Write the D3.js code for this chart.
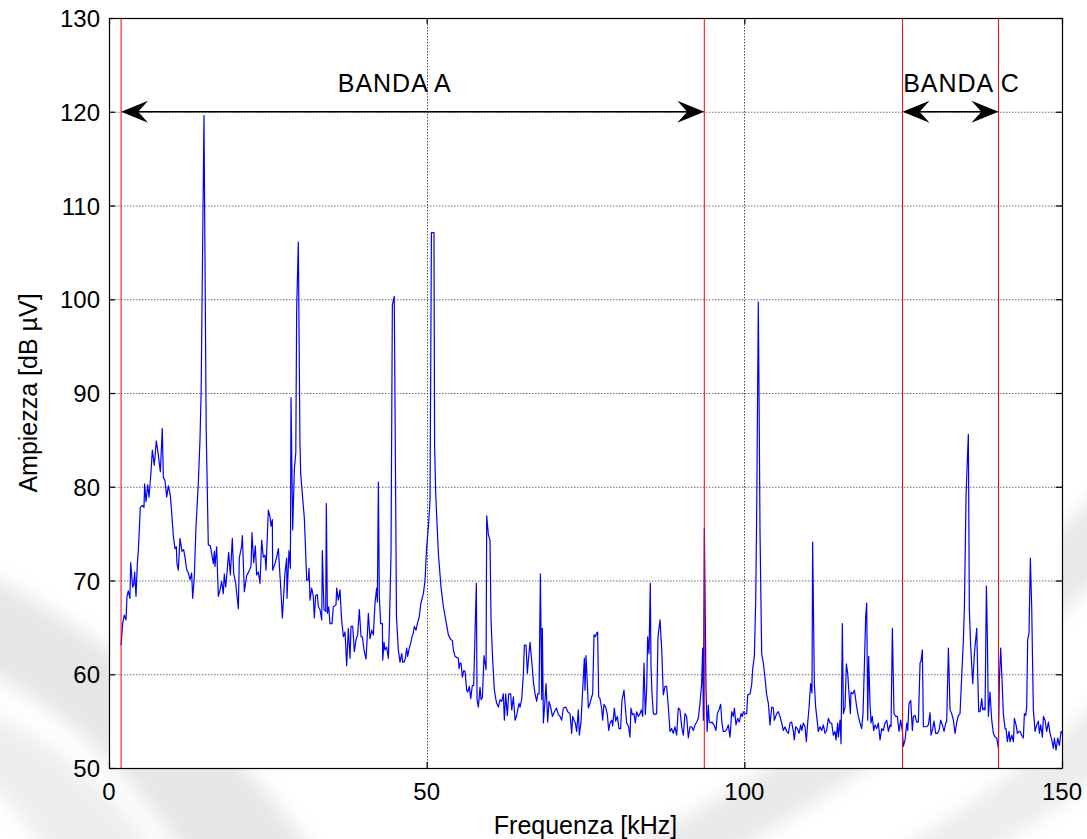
<!DOCTYPE html>
<html>
<head>
<meta charset="utf-8">
<script src="https://cdn.jsdelivr.net/npm/d3@7"></script>
<style>
  html, body { margin: 0; padding: 0; background: #ffffff; }
  svg { display: block; font-family: "Liberation Sans", Arial, sans-serif; }
</style>
</head>
<body>
<svg id="chart" width="1087" height="839"></svg>
<script>
// Axis ticks
const xTicks = [0, 50, 100, 150];
const yTicks = [50, 60, 70, 80, 90, 100, 110, 120, 130];
const xGridTicks = [50, 100];
const yGridTicks = [60, 70, 80, 90, 100, 110, 120];

// Band limits (kHz) drawn as red vertical markers
const bandLimits = [1.9, 93.7, 124.9, 140.0];
const bandNames = ["BANDA A", "BANDA C"];
const bandFrom = [1.9, 124.9];
const bandTo = [93.7, 140.0];
const bandLabelFreq = [36.0, 125.0];
const bandArrowLevel = 120;
const bandLabelLevel = 122.1;

// Measured spectrum: [frequency kHz, amplitude dB µV]
const spectrum = [
[1.9,63.1],[2.15,65.4],[2.41,66.3],[2.68,65.8],[2.83,68.3],[3.04,68.9],[3.30,68.1],[3.41,71.9],[3.72,69.3],[3.88,69.5],
[4.04,70.9],[4.25,68.3],[4.46,71.8],[4.62,73.2],[4.93,77.8],[5.25,78.0],[5.51,77.8],[5.61,80.3],[5.82,78.4],[6.09,80.2],
[6.30,78.9],[6.61,81.6],[6.82,83.9],[7.13,82.3],[7.45,84.9],[7.76,83.4],[8.08,81.6],[8.39,86.2],[8.55,81.0],[8.81,80.7],
[9.08,78.9],[9.34,80.1],[9.65,79.1],[9.86,77.3],[10.13,74.7],[10.39,73.4],[10.60,73.6],[10.70,71.8],[10.91,71.1],[11.17,74.5],
[11.49,73.1],[11.75,73.3],[11.96,72.5],[12.22,71.2],[12.49,70.8],[12.75,70.1],[13.01,70.8],[13.17,68.1],[13.43,70.4],[13.69,75.7],
[14.06,80.4],[14.32,85.0],[14.50,90.0],[14.95,119.6],[15.30,86.0],[15.63,73.8],[15.95,73.7],[16.16,72.9],[16.42,71.8],[16.58,73.1],
[16.68,71.5],[16.95,73.6],[17.21,68.3],[17.47,69.0],[17.73,69.9],[17.99,68.6],[18.15,70.7],[18.36,69.3],[18.57,70.8],[18.83,73.0],
[19.10,70.6],[19.41,74.5],[19.62,70.8],[19.94,69.7],[20.36,67.0],[20.51,72.4],[20.88,73.7],[20.99,74.8],[21.30,68.8],[21.67,70.5],
[22.04,71.0],[22.35,71.5],[22.51,75.1],[22.77,71.9],[23.03,73.7],[23.24,70.6],[23.50,70.9],[23.77,69.7],[24.03,74.3],[24.29,72.5],
[24.56,72.7],[24.71,71.1],[25.08,77.5],[25.34,76.8],[25.50,75.8],[25.71,76.5],[25.76,71.1],[26.13,71.8],[26.39,72.5],[26.66,73.4],
[27.02,69.3],[27.29,66.0],[27.70,70.8],[27.97,72.4],[28.02,68.1],[28.33,73.2],[28.55,71.3],[28.65,89.5],[28.91,75.4],[29.17,81.8],
[29.40,83.6],[29.54,99.0],[29.80,106.1],[30.05,85.0],[30.17,81.4],[30.75,76.6],[31.12,70.0],[31.38,70.1],[31.48,71.3],[31.64,67.9],
[31.90,69.2],[32.16,68.3],[32.32,66.0],[32.53,68.4],[32.79,68.5],[32.95,67.2],[33.21,66.9],[33.48,65.8],[33.58,73.2],[33.74,69.0],
[33.84,66.9],[34.11,66.7],[34.21,78.2],[34.37,66.5],[34.58,67.2],[34.79,65.4],[35.10,65.4],[35.31,67.2],[35.73,67.4],[35.84,69.2],
[36.10,67.9],[36.36,69.0],[36.62,65.8],[36.89,64.0],[37.15,64.5],[37.41,60.9],[37.67,64.9],[37.94,61.7],[38.09,65.1],[38.36,65.1],
[38.62,62.4],[38.88,63.7],[39.14,64.2],[39.40,66.9],[39.67,64.0],[39.88,64.0],[40.14,62.6],[40.45,61.6],[40.66,64.2],[40.82,66.5],
[41.08,63.8],[41.35,64.7],[41.61,64.2],[41.87,67.6],[42.13,69.2],[42.24,67.7],[42.40,80.5],[42.55,68.3],[42.76,65.4],[43.03,65.4],
[43.08,61.5],[43.29,63.4],[43.44,62.6],[43.71,62.9],[43.97,61.7],[44.13,65.1],[44.39,72.9],[44.60,99.4],[44.90,100.3],[45.25,66.1],
[45.54,62.6],[45.81,61.3],[46.07,62.2],[46.23,61.3],[46.44,61.3],[46.65,61.7],[46.85,62.8],[47.01,61.9],[47.27,62.8],[47.48,63.3],
[47.69,64.0],[47.90,64.4],[48.06,65.1],[48.33,64.7],[48.53,65.4],[48.80,66.0],[49.10,67.6],[49.48,68.6],[49.74,70.0],[50.00,73.6],
[50.27,75.7],[50.53,78.6],[50.75,107.1],[51.15,107.1],[51.25,84.3],[51.42,79.3],[51.84,72.9],[52.26,69.3],[52.63,67.2],[53.00,65.8],
[53.42,64.2],[53.78,63.7],[54.05,63.6],[54.20,62.6],[54.47,61.9],[54.73,61.8],[54.99,61.7],[55.10,60.6],[55.25,61.2],[55.41,61.2],
[55.62,59.7],[55.83,60.4],[56.04,60.3],[56.30,58.3],[56.46,58.1],[56.72,58.7],[56.93,57.4],[57.19,58.8],[57.40,58.8],[57.61,64.3],
[57.82,69.7],[57.93,57.3],[58.14,56.5],[58.40,58.6],[58.56,57.3],[58.77,57.5],[59.03,62.0],[59.19,61.2],[59.35,60.5],[59.45,76.9],
[59.71,74.9],[59.97,74.3],[60.13,65.8],[60.39,61.5],[60.66,58.3],[60.87,57.4],[61.02,56.9],[61.29,56.5],[61.55,57.3],[61.81,57.1],
[62.07,57.9],[62.23,55.1],[62.44,57.9],[62.70,55.6],[62.91,57.9],[63.23,57.9],[63.39,56.2],[63.65,57.6],[63.91,55.1],[64.17,55.6],
[64.33,56.2],[64.54,56.9],[64.70,56.5],[64.96,57.3],[65.22,60.0],[65.38,63.1],[65.64,63.1],[65.85,60.1],[66.01,61.5],[66.27,63.4],
[66.53,61.5],[66.80,59.2],[67.06,57.9],[67.32,57.1],[67.48,57.9],[67.69,57.9],[67.90,70.7],[68.11,57.3],[68.21,64.9],[68.37,54.8],
[68.63,57.3],[68.79,59.0],[69.05,54.9],[69.26,57.1],[69.52,56.5],[69.79,55.5],[70.10,56.0],[70.42,56.4],[70.73,55.7],[70.99,55.5],
[71.25,55.1],[71.52,56.4],[71.88,56.5],[72.20,56.0],[72.56,55.8],[72.82,53.7],[72.98,55.5],[73.19,55.1],[73.40,54.8],[73.61,53.9],
[73.87,56.2],[74.03,53.5],[74.29,54.9],[74.55,58.3],[74.82,61.7],[74.92,58.3],[75.08,62.0],[75.29,59.0],[75.45,56.4],[75.71,56.9],
[75.97,57.6],[76.13,57.9],[76.34,64.2],[76.55,64.0],[76.76,64.4],[76.91,64.5],[77.07,57.6],[77.28,57.4],[77.54,56.4],[77.70,55.1],
[77.91,56.8],[78.17,56.5],[78.44,55.7],[78.65,54.0],[78.86,54.8],[79.12,55.1],[79.28,54.5],[79.54,56.4],[79.75,55.0],[80.01,55.5],
[80.27,54.2],[80.53,54.2],[80.74,57.2],[81.06,58.3],[81.22,56.9],[81.48,54.8],[81.79,54.4],[82.00,53.3],[82.16,56.4],[82.37,55.7],
[82.63,55.8],[82.84,54.8],[83.05,56.0],[83.32,55.5],[83.58,55.8],[83.79,56.2],[84.00,55.5],[84.21,61.2],[84.42,55.7],[84.63,58.5],
[84.78,64.0],[85.00,62.2],[85.20,69.7],[85.31,60.8],[85.47,57.9],[85.68,55.8],[85.94,55.7],[86.20,55.8],[86.41,64.0],[86.73,65.8],
[87.00,62.6],[87.25,57.8],[87.51,58.7],[87.78,58.7],[88.04,56.5],[88.30,53.9],[88.56,54.2],[88.82,53.7],[89.09,54.4],[89.35,53.5],
[89.61,56.4],[89.87,56.2],[90.14,54.4],[90.40,53.5],[90.66,55.8],[90.92,55.5],[91.19,53.2],[91.45,54.4],[91.71,54.4],[91.97,54.0],
[92.24,54.6],[92.50,54.9],[92.76,55.3],[93.02,56.9],[93.28,59.0],[93.44,62.8],[93.55,55.1],[93.71,75.6],[93.97,58.3],[94.15,53.9],
[94.33,56.7],[94.49,54.9],[94.70,54.8],[94.91,54.9],[95.22,54.6],[95.54,54.0],[95.75,55.8],[96.01,56.2],[96.27,56.8],[96.48,54.8],
[96.69,53.9],[96.96,53.9],[97.22,54.1],[97.48,54.6],[97.75,53.3],[98.01,56.0],[98.27,55.5],[98.43,56.4],[98.69,54.6],[98.95,55.3],
[99.21,54.9],[99.48,55.8],[99.69,55.5],[99.85,56.0],[100.11,55.8],[100.37,55.8],[100.53,57.8],[100.90,57.9],[101.16,58.9],[101.32,60.6],
[101.58,61.9],[101.79,67.9],[101.94,76.8],[102.10,91.0],[102.20,99.7],[102.31,90.3],[102.47,75.0],[102.73,62.2],[102.99,61.2],[103.26,59.6],
[103.52,57.8],[103.78,56.9],[104.04,54.6],[104.31,56.5],[104.57,56.4],[104.72,55.1],[105.09,55.8],[105.35,56.0],[105.62,55.5],[105.88,54.8],
[106.14,54.0],[106.40,54.4],[106.67,53.9],[106.93,53.7],[107.19,54.8],[107.45,54.9],[107.72,53.9],[107.87,53.0],[108.08,54.4],[108.35,54.2],
[108.61,53.7],[108.87,54.6],[109.03,54.0],[109.29,54.8],[109.55,54.4],[109.76,52.8],[109.97,54.8],[110.18,56.4],[110.44,59.0],[110.65,58.0],
[110.75,74.1],[111.02,59.0],[111.23,56.5],[111.39,55.5],[111.65,53.9],[111.91,54.4],[112.18,54.0],[112.44,54.6],[112.70,53.7],[112.96,54.0],
[113.22,55.3],[113.49,54.8],[113.75,54.8],[114.01,53.5],[114.27,53.9],[114.43,53.0],[114.69,54.8],[114.80,53.3],[115.06,55.1],[115.22,52.6],
[115.43,65.4],[115.59,55.8],[115.85,56.5],[116.06,61.1],[116.27,60.1],[116.48,57.9],[116.69,55.8],[116.79,58.1],[117.05,57.9],[117.32,58.3],
[117.53,57.3],[117.69,56.5],[117.95,55.5],[118.21,54.8],[118.47,54.2],[118.68,55.8],[118.89,60.8],[119.10,66.1],[119.26,67.6],[119.42,55.1],
[119.57,61.9],[119.78,56.9],[119.94,54.8],[120.15,55.5],[120.36,54.0],[120.57,54.6],[120.83,54.2],[121.09,54.8],[121.36,53.0],[121.62,54.2],
[121.88,54.0],[122.15,54.8],[122.41,55.1],[122.67,53.9],[122.93,54.6],[123.09,54.4],[123.30,64.9],[123.56,55.8],[123.83,55.5],[124.09,55.5],
[124.35,53.9],[124.61,55.1],[124.88,53.9],[125.03,52.3],[125.30,53.0],[125.56,54.8],[125.72,54.0],[125.92,56.9],[126.19,57.2],[126.45,54.0],
[126.61,55.5],[126.87,55.6],[127.13,54.9],[127.39,54.9],[127.66,61.2],[127.81,61.4],[128.02,62.6],[128.18,54.4],[128.44,54.4],[128.70,54.4],
[128.97,54.6],[129.23,55.9],[129.39,53.5],[129.65,54.2],[129.86,55.0],[130.12,53.7],[130.38,53.7],[130.65,54.0],[130.91,55.1],[131.17,54.6],
[131.43,53.9],[131.70,54.8],[131.85,54.9],[132.12,62.8],[132.38,56.2],[132.64,55.8],[132.90,55.1],[133.17,53.7],[133.43,54.9],[133.69,55.6],
[133.95,55.8],[134.21,59.7],[134.48,63.7],[134.64,67.2],[134.90,79.0],[135.10,82.9],[135.26,85.6],[135.42,66.8],[135.63,62.9],[135.95,59.0],
[136.21,62.2],[136.58,64.9],[136.73,60.1],[136.89,56.0],[137.10,56.0],[137.36,57.4],[137.52,56.2],[137.73,56.4],[137.89,56.2],[138.10,69.4],
[138.25,64.0],[138.41,55.5],[138.67,58.1],[138.94,55.1],[139.20,53.7],[139.46,53.3],[139.72,53.2],[139.99,52.1],[140.14,59.4],[140.35,62.8],
[140.56,59.4],[140.77,55.8],[141.04,54.2],[141.19,54.2],[141.40,52.8],[141.66,53.9],[141.82,52.8],[142.09,53.5],[142.35,52.8],[142.50,55.3],
[142.77,54.6],[142.98,53.7],[143.24,53.9],[143.40,53.9],[143.66,53.5],[143.92,53.2],[144.08,55.8],[144.29,55.6],[144.44,56.5],[144.60,63.7],
[144.81,64.4],[145.02,72.4],[145.23,67.2],[145.49,56.2],[145.76,53.9],[146.02,54.6],[146.28,55.0],[146.44,53.7],[146.65,54.6],[146.91,53.3],
[147.07,55.5],[147.33,55.1],[147.59,53.9],[147.86,54.9],[148.12,53.7],[148.38,53.0],[148.64,52.1],[148.80,53.2],[149.06,51.9],[149.32,53.2],
[149.59,52.4],[149.85,53.9],[150.00,53.7]
];

const svg = d3.select("#chart");
const plot = { left: 109, right: 1062, top: 18, bottom: 768 };

const x = d3.scaleLinear().domain([0, 150]).range([plot.left, plot.right]);
const y = d3.scaleLinear().domain([50, 130]).range([plot.bottom, plot.top]);

// Soft decorative swooshes in the page background
const defs = svg.append("defs");
defs.append("filter").attr("id", "soft")
  .append("feGaussianBlur").attr("stdDeviation", 10);
const bg = svg.append("g").attr("filter", "url(#soft)");
bg.append("path")
  .attr("d", "M-40,560 C 120,640 260,760 330,880 L 200,880 C 140,780 60,700 -40,660 Z")
  .attr("fill", "#e6e6e6");
bg.append("path")
  .attr("d", "M-40,700 C 60,740 130,800 170,880 L 60,880 C 30,820 0,790 -40,770 Z")
  .attr("fill", "#eeeeee");
bg.append("path")
  .attr("d", "M560,880 C 700,820 900,700 1120,470 L 1120,560 C 930,740 760,840 680,880 Z")
  .attr("fill", "#e8e8e8");
bg.append("path")
  .attr("d", "M850,880 C 950,820 1040,760 1120,680 L 1120,760 C 1060,810 990,850 940,880 Z")
  .attr("fill", "#ececec");

// Axes background
svg.append("rect")
  .attr("x", plot.left).attr("y", plot.top)
  .attr("width", plot.right - plot.left).attr("height", plot.bottom - plot.top)
  .attr("fill", "#ffffff");

// Grid
const grid = svg.append("g");
grid.selectAll("line.hg").data(yGridTicks).join("line")
  .attr("x1", plot.left).attr("x2", plot.right)
  .attr("y1", d => y(d) + 0.5).attr("y2", d => y(d) + 0.5)
  .attr("stroke", "#6e6e6e").attr("stroke-width", 1)
  .attr("stroke-dasharray", "1.5,1.5");
grid.selectAll("line.vg").data(xGridTicks).join("line")
  .attr("x1", d => Math.round(x(d)) + 0.5).attr("x2", d => Math.round(x(d)) + 0.5)
  .attr("y1", plot.top).attr("y2", plot.bottom)
  .attr("stroke", "#505050").attr("stroke-width", 1)
  .attr("stroke-dasharray", "1.5,1.5");

// Spectrum trace
const line = d3.line().x(d => x(d[0])).y(d => y(d[1]));
svg.append("path")
  .datum(spectrum)
  .attr("d", line)
  .attr("fill", "none")
  .attr("stroke", "#0000ff")
  .attr("stroke-width", 1.2)
  .attr("stroke-linejoin", "round");

// Band limit markers
svg.append("g").selectAll("line").data(bandLimits).join("line")
  .attr("x1", d => x(d)).attr("x2", d => x(d))
  .attr("y1", plot.top).attr("y2", plot.bottom)
  .attr("stroke", "#ff0000").attr("stroke-width", 1);

// Double arrows spanning each band
function headPath(tipX, tipY, dir) {
  const L = 27, hw = 11, notch = 17;
  const p = d3.path();
  p.moveTo(tipX, tipY);
  p.lineTo(tipX + dir * L, tipY - hw);
  p.quadraticCurveTo(tipX + dir * (notch + 2), tipY - 2, tipX + dir * notch, tipY);
  p.quadraticCurveTo(tipX + dir * (notch + 2), tipY + 2, tipX + dir * L, tipY + hw);
  p.closePath();
  return p.toString();
}
const arrows = svg.append("g");
bandNames.forEach((name, i) => {
  const x0 = x(bandFrom[i]), x1 = x(bandTo[i]), ya = y(bandArrowLevel);
  arrows.append("line")
    .attr("x1", x0 + 10).attr("x2", x1 - 10)
    .attr("y1", ya).attr("y2", ya)
    .attr("stroke", "#000").attr("stroke-width", 1.5);
  arrows.append("path").attr("d", headPath(x0, ya, 1)).attr("fill", "#000");
  arrows.append("path").attr("d", headPath(x1, ya, -1)).attr("fill", "#000");
  arrows.append("text")
    .attr("x", x(bandLabelFreq[i])).attr("y", y(bandLabelLevel))
    .attr("font-size", 25).attr("letter-spacing", 1).attr("fill", "#000")
    .text(name);
});

// Axes frame
svg.append("rect")
  .attr("x", plot.left + 0.5).attr("y", plot.top + 0.5)
  .attr("width", plot.right - plot.left).attr("height", plot.bottom - plot.top)
  .attr("fill", "none").attr("stroke", "#000").attr("stroke-width", 1.2);

// Inward tick marks on all four sides
const tk = 6;
const ticks = svg.append("g").attr("stroke", "#000").attr("stroke-width", 1.2);
yTicks.forEach(v => {
  ticks.append("line").attr("x1", plot.left).attr("x2", plot.left + tk).attr("y1", y(v) + 0.5).attr("y2", y(v) + 0.5);
  ticks.append("line").attr("x1", plot.right - tk).attr("x2", plot.right).attr("y1", y(v) + 0.5).attr("y2", y(v) + 0.5);
});
xTicks.forEach(v => {
  ticks.append("line").attr("x1", x(v) + 0.5).attr("x2", x(v) + 0.5).attr("y1", plot.bottom).attr("y2", plot.bottom - tk);
  ticks.append("line").attr("x1", x(v) + 0.5).attr("x2", x(v) + 0.5).attr("y1", plot.top).attr("y2", plot.top + tk);
});

// Tick labels
svg.append("g").selectAll("text").data(yTicks).join("text")
  .attr("x", plot.left - 9).attr("y", d => y(d) + 9)
  .attr("text-anchor", "end").attr("font-size", 24).attr("fill", "#000")
  .text(d => d);
svg.append("g").selectAll("text").data(xTicks).join("text")
  .attr("x", d => x(d)).attr("y", 800)
  .attr("text-anchor", "middle").attr("font-size", 24).attr("fill", "#000")
  .text(d => d);

// Axis titles
svg.append("text")
  .attr("x", (plot.left + plot.right) / 2).attr("y", 834)
  .attr("text-anchor", "middle").attr("font-size", 25).attr("fill", "#000")
  .text("Frequenza [kHz]");
svg.append("text")
  .attr("transform", `translate(37,${(plot.top + plot.bottom) / 2}) rotate(-90)`)
  .attr("text-anchor", "middle").attr("font-size", 25).attr("fill", "#000")
  .text("Ampiezza [dB µV]");
</script>
</body>
</html>
